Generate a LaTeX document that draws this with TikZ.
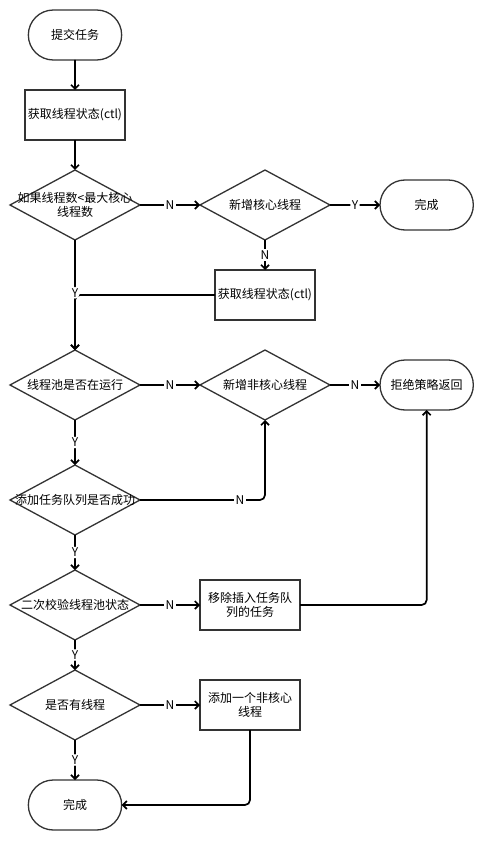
\documentclass[tikz,border=0pt]{standalone}
\usepackage{fontspec}
\setmainfont{Noto Sans CJK SC}
\usetikzlibrary{positioning, shapes.geometric, shapes.misc, arrows.meta}

\begin{document}
\begin{tikzpicture}[
        x=1pt, y=-1pt,
        every node/.style={font=\fontsize{12}{14}\selectfont},
        terminal/.style={draw=black!80, line width=1.3pt, rounded rectangle, minimum width=100pt, minimum height=50pt, outer sep=0pt, fill=white},
        process/.style={draw=black!80, line width=1.3pt, rectangle, minimum width=100pt, minimum height=50pt, outer sep=0pt, align=center, inner sep=2pt},
        decision/.style={draw=black!80, line width=1.3pt, diamond, minimum width=130pt, minimum height=70pt, outer sep=0pt, inner sep=0pt, fill=white},
        line/.style={draw, line width=1.7pt, -{Straight Barb[length=4pt, width=8pt]}, rounded corners=5pt},
        lbl/.style={fill=white, inner sep=1.5pt}
    ]

    \useasboundingbox (0,0) rectangle (500,850);

    \node[terminal] (start) at (75,35) {提交任务};
    \node[process, below=30pt of start] (getctl) {获取线程状态(ctl)};
    \node[decision, below=30pt of getctl, label={[align=center]center:如果线程数<最大核心\\线程数}] (corecheck) {};
    \node[decision, right=60pt of corecheck, label=center:新增核心线程] (addcore) {};
    \node[terminal, right=50pt of addcore] (done) {完成};
    \node[process, below=30pt of addcore] (getctlb) {获取线程状态(ctl)};

    \node[decision, below=110pt of corecheck, label=center:线程池是否在运行] (running) {};
    \node[decision, right=60pt of running, label=center:新增非核心线程] (addnoncore) {};
    \node[terminal, right=50pt of addnoncore] (reject) {拒绝策略返回};

    \node[decision, below=45pt of running, label=center:添加任务队列是否成功] (enqueue) {};
    \node[decision, below=35pt of enqueue, label=center:二次校验线程池状态] (recheck) {};
    \node[process, right=60pt of recheck] (remove) {移除插入任务队\\列的任务};
    \node[decision, below=30pt of recheck, label=center:是否有线程] (hasworker) {};
    \node[process, right=60pt of hasworker] (addworker) {添加一个非核心\\线程};
    \node[terminal, below=40pt of hasworker] (finish) {完成};

    \draw[line] (start) -- (getctl);
    \draw[line] (getctl) -- (corecheck);
    \draw[line] (corecheck.east) -- node[lbl] {N} (addcore.west);
    \draw[line] (addcore.east) -- node[lbl] {Y} (done.west);
    \draw[line] (addcore.south) -- node[lbl] {N} (getctlb.north);
    \draw[line] (getctlb.west) -| (running.north);
    \draw[line] (corecheck.south) -- node[lbl, pos=0.48] {Y} (running.north);

    \draw[line] (running.east) -- node[lbl] {N} (addnoncore.west);
    \draw[line] (addnoncore.east) -- node[lbl] {N} (reject.west);
    \draw[line] (running.south) -- node[lbl] {Y} (enqueue.north);
    \draw[line] (enqueue.east) -| node[lbl, pos=0.4] {N} (addnoncore.south);

    \draw[line] (enqueue.south) -- node[lbl] {Y} (recheck.north);
    \draw[line] (recheck.east) -- node[lbl] {N} (remove.west);
    \draw[line] (remove.east) -| (reject.south);

    \draw[line] (recheck.south) -- node[lbl] {Y} (hasworker.north);
    \draw[line] (hasworker.east) -- node[lbl] {N} (addworker.west);
    \draw[line] (hasworker.south) -- node[lbl] {Y} (finish.north);
    \draw[line] (addworker.south) |- (finish.east);

\end{tikzpicture}
\end{document}
